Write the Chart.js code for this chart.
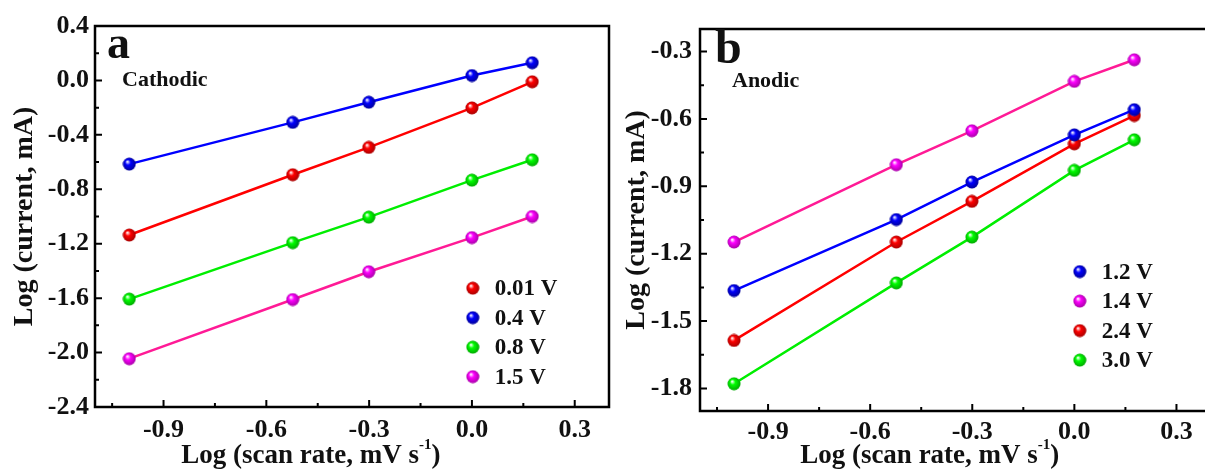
<!DOCTYPE html>
<html>
<head>
<meta charset="utf-8">
<script src="https://cdn.jsdelivr.net/npm/chart.js@4.4.0/dist/chart.umd.min.js"></script>
<style>
  html, body { margin: 0; padding: 0; background: #fff; overflow: hidden; width: 1205px; height: 474px; }
  #wrapA { position: absolute; left: 0; top: 0; width: 620px; height: 474px; }
  #wrapB { position: absolute; left: 620px; top: 0; width: 600px; height: 474px; }
</style>
</head>
<body>
<div id="wrapA"><canvas id="chartA"></canvas></div>
<div id="wrapB"><canvas id="chartB"></canvas></div>
<script>
// log of scan rate (0.1, 0.3, 0.5, 1, 1.5 mV/s)
var scanRate = [-1.0, -0.523, -0.301, 0.0, 0.176];

// panel a, cathodic peaks
var cath_001 = [-1.136, -0.693, -0.492, -0.202, -0.010];
var cath_04 = [-0.615, -0.308, -0.160, 0.036, 0.130];
var cath_08 = [-1.607, -1.192, -1.005, -0.733, -0.583];
var cath_15 = [-2.045, -1.610, -1.406, -1.155, -1.000];

// panel b, anodic peaks
var anod_12 = [-1.364, -1.048, -0.881, -0.671, -0.559];
var anod_14 = [-1.148, -0.804, -0.653, -0.433, -0.337];
var anod_24 = [-1.586, -1.148, -0.967, -0.711, -0.585];
var anod_30 = [-1.779, -1.330, -1.126, -0.829, -0.693];

var xTicks = [-0.9, -0.6, -0.3, 0.0, 0.3];
var xMinor = [-1.05, -0.75, -0.45, -0.15, 0.15];
var yTicksA = [0.4, 0.0, -0.4, -0.8, -1.2, -1.6, -2.0, -2.4];
var yMinorA = [0.2, -0.2, -0.6, -1.0, -1.4, -1.8, -2.2];
var yTicksB = [-0.3, -0.6, -0.9, -1.2, -1.5, -1.8];
var yMinorB = [-0.45, -0.75, -1.05, -1.35, -1.65];

var SERIF = "'Liberation Serif', 'Times New Roman', serif";

// little shaded ball used as marker
function sphere(color, dark) {
  var c = document.createElement('canvas');
  c.width = 14; c.height = 14;
  var g = c.getContext('2d');
  var grad = g.createRadialGradient(5, 4.5, 0.3, 7, 7, 7);
  grad.addColorStop(0, '#ffffff');
  grad.addColorStop(0.35, color);
  grad.addColorStop(1, dark);
  g.fillStyle = grad;
  g.beginPath(); g.arc(7, 7, 6.5, 0, Math.PI * 2); g.fill();
  return c;
}
var ballRed = sphere('#ff0000', '#a00000');
var ballBlue = sphere('#0000ff', '#000090');
var ballGreen = sphere('#00ff00', '#00a000');
var ballPink = sphere('#ff00ff', '#a000a0');

function series(label, data, line, ball) {
  return {
    label: label,
    data: scanRate.map(function (x, i) { return {x: x, y: data[i]}; }),
    borderColor: line,
    backgroundColor: line,
    borderWidth: 2.5,
    tension: 0,
    pointStyle: ball,
    pointRadius: 7,
    ball: ball
  };
}

// frame, inward ticks, panel letter, note, legend and x title
var decor = {
  id: 'decor',
  afterDraw: function (chart) {
    var o = chart.options.plugins.decor;
    var ctx = chart.ctx, a = chart.chartArea;
    var xs = chart.scales.x, ys = chart.scales.y;
    ctx.save();
    ctx.strokeStyle = '#000';
    ctx.lineWidth = 2.5;
    ctx.strokeRect(a.left, a.top, a.right - a.left, a.bottom - a.top);
    ctx.lineWidth = 2;
    ctx.beginPath();
    xTicks.forEach(function (v) { var p = xs.getPixelForValue(v); ctx.moveTo(p, a.bottom); ctx.lineTo(p, a.bottom - 7); });
    xMinor.forEach(function (v) { var p = xs.getPixelForValue(v); ctx.moveTo(p, a.bottom); ctx.lineTo(p, a.bottom - 4); });
    o.yTicks.forEach(function (v) { var p = ys.getPixelForValue(v); ctx.moveTo(a.left, p); ctx.lineTo(a.left + 7, p); });
    o.yMinor.forEach(function (v) { var p = ys.getPixelForValue(v); ctx.moveTo(a.left, p); ctx.lineTo(a.left + 4, p); });
    ctx.stroke();

    ctx.fillStyle = '#111';
    ctx.textAlign = 'left';
    ctx.textBaseline = 'alphabetic';
    ctx.font = 'bold ' + o.letterSize + 'px ' + SERIF;
    ctx.fillText(o.letter, a.left + o.letterPos[0], a.top + o.letterPos[1]);
    ctx.font = 'bold 22px ' + SERIF;
    ctx.fillText(o.note, a.left + o.notePos[0], a.top + o.notePos[1]);

    // legend
    var w = a.right - a.left, h = a.bottom - a.top;
    var lx = a.left + o.legend[0] * w, ly = a.top + o.legend[1] * h;
    ctx.textBaseline = 'middle';
    ctx.font = 'bold 23px ' + SERIF;
    o.order.forEach(function (idx, k) {
      var ds = chart.data.datasets[idx];
      var yy = ly + k * 29.5;
      ctx.drawImage(ds.ball, lx - 7, yy - 7);
      ctx.fillText(ds.label, lx + 22, yy + 1);
    });

    // x axis title with superscript
    ctx.textBaseline = 'alphabetic';
    var main = 'Log (scan rate, mV s', sup = '-1', tail = ')';
    ctx.font = 'bold 27px ' + SERIF;
    var w1 = ctx.measureText(main).width, w3 = ctx.measureText(tail).width;
    ctx.font = 'bold 15px ' + SERIF;
    var w2 = ctx.measureText(sup).width;
    var total = w1 + w2 + w3;
    var cx = a.left + o.titleX * w - total / 2, by = 463;
    ctx.font = 'bold 27px ' + SERIF;
    ctx.fillText(main, cx, by);
    ctx.font = 'bold 15px ' + SERIF;
    ctx.fillText(sup, cx + w1, by - 14);
    ctx.font = 'bold 27px ' + SERIF;
    ctx.fillText(tail, cx + w1 + w2, by);
    ctx.restore();
  }
};

function makeChart(id, datasets, yMin, yMax, yTicks, yMinor, cfg) {
  return new Chart(document.getElementById(id), {
    type: 'line',
    data: { datasets: datasets },
    plugins: [decor],
    options: {
      responsive: true,
      maintainAspectRatio: false,
      animation: false,
      layout: { padding: cfg.padding },
      plugins: {
        legend: { display: false },
        tooltip: { enabled: false },
        decor: {
          yTicks: yTicks, yMinor: yMinor,
          letter: cfg.letter, letterSize: cfg.letterSize, letterPos: cfg.letterPos,
          note: cfg.note, notePos: cfg.notePos,
          legend: cfg.legend, order: cfg.order, titleX: cfg.titleX
        }
      },
      scales: {
        x: {
          type: 'linear', min: -1.1, max: 0.4,
          afterBuildTicks: function (s) { s.ticks = xTicks.map(function (v) { return {value: v}; }); },
          afterFit: function (s) { s.height = cfg.xHeight; },
          grid: { display: false, drawTicks: false },
          border: { display: false },
          ticks: {
            color: '#111', padding: cfg.xPad, maxRotation: 0,
            font: { family: SERIF, size: 26, weight: 'bold' },
            callback: function (v) { return v.toFixed(1); }
          }
        },
        y: {
          type: 'linear', min: yMin, max: yMax,
          afterBuildTicks: function (s) { s.ticks = yTicks.map(function (v) { return {value: v}; }); },
          afterFit: function (s) { s.width = cfg.yWidth; },
          grid: { display: false, drawTicks: false },
          border: { display: false },
          ticks: {
            color: '#111', padding: cfg.yPad,
            font: { family: SERIF, size: 26, weight: 'bold' },
            callback: function (v) { return v.toFixed(1); }
          },
          title: {
            display: true, text: 'Log (current, mA)', color: '#111', padding: 0,
            font: { family: SERIF, size: 28, weight: 'bold' }
          }
        }
      }
    }
  });
}

makeChart('chartA', [
  series('0.01 V', cath_001, '#ff0000', ballRed),
  series('0.4 V', cath_04, '#0000ff', ballBlue),
  series('0.8 V', cath_08, '#00ee00', ballGreen),
  series('1.5 V', cath_15, '#ff1a96', ballPink)
], -2.4, 0.4, yTicksA, yMinorA, {
  padding: { left: 8, right: 11, top: 26, bottom: 0 },
  xHeight: 67, yWidth: 87, xPad: 8, yPad: 6,
  letter: 'a', letterSize: 46, letterPos: [12, 32],
  note: 'Cathodic', notePos: [27, 60],
  legend: [0.735, 0.688], order: [0, 1, 2, 3], titleX: 0.42
});

makeChart('chartB', [
  series('1.2 V', anod_12, '#0000ff', ballBlue),
  series('1.4 V', anod_14, '#ff1a96', ballPink),
  series('2.4 V', anod_24, '#ff0000', ballRed),
  series('3.0 V', anod_30, '#00ee00', ballGreen)
], -1.9, -0.2, yTicksB, yMinorB, {
  padding: { left: 0, right: 6, top: 29, bottom: 0 },
  xHeight: 63, yWidth: 80, xPad: 6, yPad: 8,
  letter: 'b', letterSize: 48, letterPos: [15, 34],
  note: 'Anodic', notePos: [32, 58],
  legend: [0.744, 0.635], order: [0, 1, 2, 3], titleX: 0.45
});
</script>
</body>
</html>
